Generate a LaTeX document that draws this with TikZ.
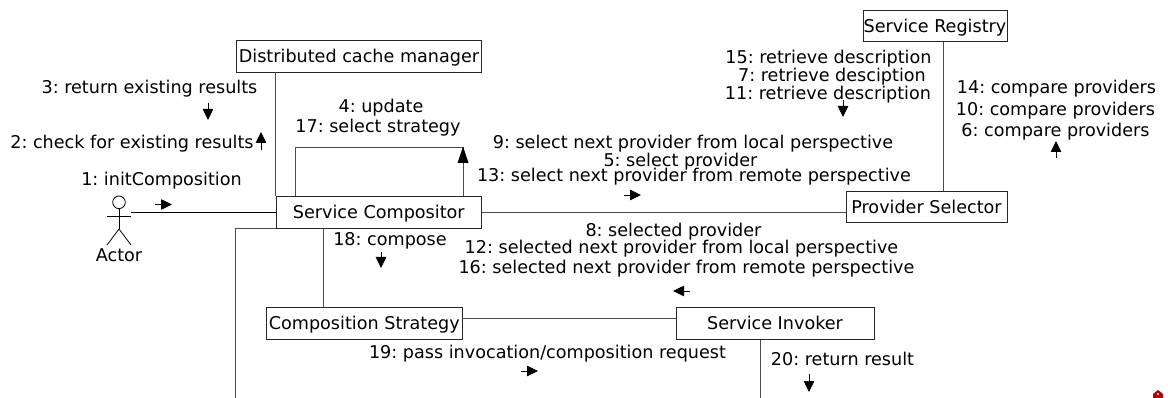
\documentclass[tikz,border=0pt]{standalone}
\usepackage{fontspec}
\setmainfont{DejaVu Sans}
\usetikzlibrary{arrows.meta}
\definecolor{linegray}{gray}{0.3}
\frenchspacing
\tikzset{
 box/.style={draw=black!85,line width=0.9pt,fill=white,inner sep=0pt,minimum height=31.5pt},
 lab/.style={inner sep=0pt,font=\fontsize{17.6}{20}\selectfont,text height=14pt,text depth=1pt},
 link/.style={draw=linegray,line width=1pt},
 flow/.style={draw=black,line width=0.8pt,-{Triangle[length=11pt,width=10.5pt]}},
 stick/.style={draw=black,line width=0.8pt},
}
\begin{document}
\begin{tikzpicture}[x=1pt,y=-1pt]
\useasboundingbox (0,0) rectangle (1168,398);
\coordinate (bl) at (235,398);
\coordinate (bi) at (760,398);
% boxes
\node[box,minimum width=245pt,lab] (cache) at (359,56.3) {Distributed cache manager};
\node[box,minimum width=205.5pt,lab] (comp) at (378.8,212.3) {Service Compositor};
\node[box,minimum width=195.5pt,lab] (strat) at (364.3,323.5) {Composition Strategy};
\node[box,minimum width=198pt,lab] (inv) at (775,323.5) {Service Invoker};
\node[box,minimum width=144pt,lab] (reg) at (935,26) {Service Registry};
\node[box,minimum width=161pt,lab] (sel) at (926.5,207) {Provider Selector};
% actor
\node[draw=black,circle,line width=0.8pt,minimum size=12.6pt,inner sep=0pt] (head) at (119,202.3) {};
\coordinate (hip) at (119,229);
\coordinate (armL) at (107,216);
\coordinate (armR) at (131,216);
\coordinate (legL) at (107,245);
\coordinate (legR) at (131,245);
\draw[stick] (head.south) -- (hip);
\draw[stick] (armL) -- (armR);
\draw[stick] (legL) -- (hip) -- (legR);
\node[lab] (actor) at (119,255) {Actor};
% connectors
\coordinate (actorhand) at (131,212.3);
\draw[stick] (actorhand) -- (comp.west);
\draw[link] (cache.south -| comp.west) -- (comp.north west);
\draw[link] (comp.east) -- (comp.east -| sel.west);
\draw[link] (comp.south -| strat.north) ++(-41.3,0) -- ++(0,79.5);
\draw[link] (comp.south west) -- (comp.south west -| bl) -- (bl);
\draw[link] (strat.east |- 0,318) -- (inv.west |- 0,318);
\draw[link] (inv.south -| bi) -- (bi);
\draw[link] (reg.south -| 943,0) -- (sel.north -| 943,0);
\coordinate (la) at (295,196.5);
\coordinate (lb) at (295,147.5);
\coordinate (lc) at (463,147.5);
\coordinate (ld) at (463,196.5);
\draw[link] (la) -- (lb) -- (lc);
\draw[link] (ld) -- (lc);
\fill[black] (463,146.5) -- (468.5,163) -- (457.5,163) -- cycle;
% labels
\node[lab] (l3) at (149.5,87) {3: return existing results};
\node[lab] (l2) at (132,142) {2: check for existing results};
\node[lab] (l1) at (161.5,179) {1: initComposition};
\node[lab] (l4) at (381,106) {4: update};
\node[lab] (l17) at (378,126) {17: select strategy};
\node[lab] (l18) at (390,239) {18: compose};
\node[lab] (l9) at (693,142) {9: select next provider from local perspective};
\node[lab] (l5) at (680.5,160) {5: select provider};
\node[lab] (l13) at (694,175) {13: select next provider from remote perspective};
\node[lab] (l8) at (673.5,230) {8: selected provider};
\node[lab] (l12) at (681.5,247) {12: selected next provider from local perspective};
\node[lab] (l16) at (686.5,267) {16: selected next provider from remote perspective};
\node[lab] (l15) at (828.5,57) {15: retrieve description};
\node[lab] (l7) at (832,75) {7: retrieve desciption};
\node[lab] (l11) at (828,93) {11: retrieve description};
\node[lab] (l14) at (1056.5,87) {14: compare providers};
\node[lab] (l10) at (1055.5,109) {10: compare providers};
\node[lab] (l6) at (1055.5,130) {6: compare providers};
\node[lab] (l19) at (547.5,352) {19: pass invocation/composition request};
\node[lab] (l20) at (842.5,359) {20: return result};
% direction arrows
\foreach \n/\ax/\ay/\bx/\by in {a1/155/204.5/172/204.5,a2/208/103/208/120,a3/261/150/261/132,a4/381/252/381/268,a5/623.5/195/641/195,a6/843/100/843/117,a7/1056/158/1056/141,a8/690/291/673/291,a9/520.5/371/538/371,a10/809/374/809/392}{
 \coordinate (\n s) at (\ax,\ay);
 \coordinate (\n e) at (\bx,\by);
 \draw[flow] (\n s) -- (\n e);
}
% corner mark
\fill[red!70!black] (1158,390) -- (1163,394) -- (1163,398) -- (1153,398) -- (1153,394) -- cycle;
\fill[white] (1158,394) circle (1.2pt);
\end{tikzpicture}
\end{document}
